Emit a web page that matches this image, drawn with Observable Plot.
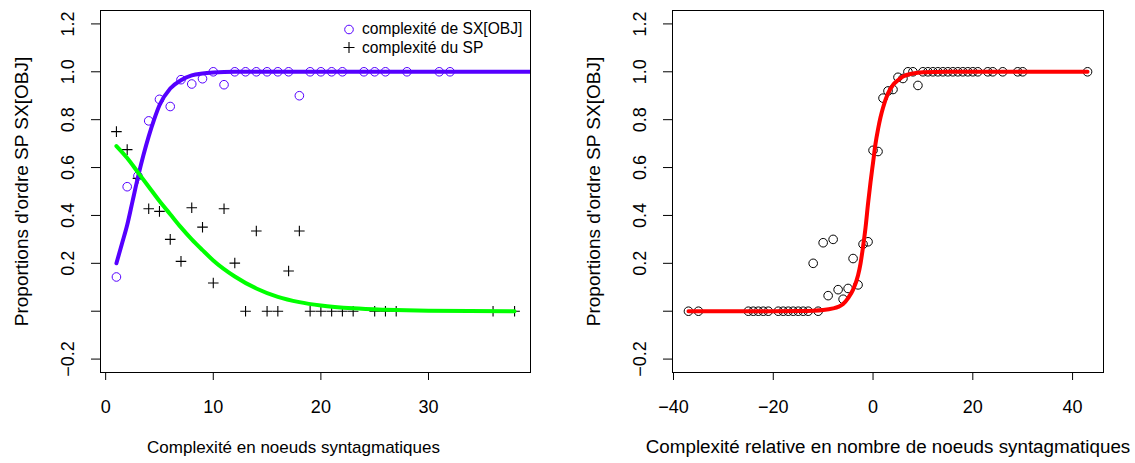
<!DOCTYPE html>
<html><head><meta charset="utf-8">
<script src="https://cdn.jsdelivr.net/npm/d3@7"></script>
<script src="https://cdn.jsdelivr.net/npm/@observablehq/plot@0.6"></script>
<style>
body{margin:0;background:#fff;}
#wrap{position:relative;width:1135px;height:463px;font-family:"Liberation Sans",Arial,Helvetica,sans-serif;color:#000;}
#left,#right{position:absolute;top:0;}
#left{left:0;} #right{left:567px;}
.leg{position:absolute;left:341px;height:19px;display:flex;align-items:center;font-size:15.6px;white-space:nowrap;}
.leg span{margin-left:5px;}
</style></head><body>
<div id="wrap"><div id="left"></div><div id="right"></div>
<div class="leg" style="top:19.5px"><svg width="16" height="19"><circle cx="8" cy="9.5" r="4.3" fill="none" stroke="#5500ff" stroke-width="1"/></svg><span>complexité de SX[OBJ]</span></div>
<div class="leg" style="top:38px"><svg width="16" height="19"><path d="M2.5,9.5H13.5M8,4V15" stroke="#000" stroke-width="1.1" fill="none"/></svg><span>complexité du SP</span></div>
</div>
<script>
// ---------- data: left panel ----------
const sxX = [1,2,3,4,5,6,7,8,9,10,11,12,13,14,15,16,17,18,19,20,21,22,24,25,26,28,31,32];
const sxY = [0.143,0.52,0.565,0.795,0.885,0.855,0.967,0.949,0.971,1,0.946,1,1,1,1,1,1,0.9,1,1,1,1,1,1,1,1,1,1];
const spX = [1,2,3,4,5,6,7,8,9,10,11,12,13,14,15,16,17,18,19,20,21,22,23,25,26,27,36,38];
const spY = [0.75,0.675,0.555,0.428,0.417,0.30,0.208,0.432,0.351,0.118,0.428,0.201,0,0.335,0,0,0.168,0.335,0,0,0,0,0,0,0,0,0,0];
// fitted curves
const sxCurveX = [1,1.5,2,2.5,3,3.5,4,4.5,5,6,7,8,9,10,12,15,39.5];
const sxCurveY = [0.20,0.28,0.36,0.46,0.56,0.65,0.73,0.80,0.86,0.93,0.965,0.985,0.993,0.997,1,1,1];
const spCurveX = [1,2,3,4,5,6,7,8,9,10,12,14,16,18,20,23,26,30,38];
const spCurveY = [0.69,0.64,0.58,0.52,0.46,0.405,0.35,0.30,0.255,0.212,0.145,0.095,0.06,0.038,0.024,0.012,0.006,0.002,0];
// ---------- data: right panel ----------
const relX = [-37,-35,-25,-24,-23,-22,-21,-19,-18,-17,-16,-15,-14,-13,-12,-11,-10,-9,-8,-7,-6,-5,-4,-3,-2,-1,0,1,2,3,4,5,6,7,8,9,10,11,12,13,14,15,16,17,18,19,20,21,23,24,26,29,30,43];
const relY = [0,0,0,0,0,0,0,0,0,0,0,0,0,0,0.2,0,0.286,0.065,0.3,0.09,0.05,0.095,0.22,0.11,0.28,0.29,0.672,0.667,0.89,0.92,0.926,0.977,0.972,1,1,0.943,1,1,1,1,1,1,1,1,1,1,1,1,1,1,1,1,1,1];
const relCurveX = [-37,-20,-15,-12,-10,-8,-7,-6,-5,-4,-3,-2.5,-2,-1.5,-1,-0.5,0,0.5,1,1.5,2,3,4,5,6,8,10,15,43];
const relCurveY = [0,0,0.0005,0.002,0.005,0.012,0.018,0.03,0.055,0.09,0.15,0.2,0.27,0.35,0.45,0.54,0.62,0.70,0.76,0.81,0.85,0.91,0.945,0.965,0.98,0.993,0.998,1,1];
// ---------- ticks / labels ----------
const yTicks = [-0.2,0,0.2,0.4,0.6,0.8,1.0,1.2];
const yTickLabels = ["\u22120.2","","0.2","0.4","0.6","0.8","1.0","1.2"];
const leftXTicks = [0,10,20,30];
const leftXTickLabels = ["0","10","20","30"];
const rightXTicks = [-40,-20,0,20,40];
const rightXTickLabels = ["\u221240","\u221220","0","20","40"];
const yTitle = "Proportions d'ordre SP SX[OBJ]";
const leftXTitle = "Complexité en noeuds syntagmatiques";
const rightXTitle = "Complexité relative en nombre de noeuds syntagmatiques";
const ylim = [-0.2, 1.2];

const purple = "#5500ff", green = "#00ff00", red = "#ff0000";
const font = "'Liberation Sans', Arial, Helvetica, sans-serif";
const pad = e => { const d = (e[1]-e[0])*0.04; return [e[0]-d, e[1]+d]; };
const pts = (xs, ys) => xs.map((x,i) => ({x, y: ys[i]}));

function panel({width, marginLeft, marginRight, xDomain, xTicks, xTickLabels, xTitle, xTitleSize, xTitleDx, marks}) {
  return Plot.plot({
    width, height: 463, marginLeft, marginRight, marginTop: 10, marginBottom: 91,
    style: {fontFamily: font, background: "white", color: "black", overflow: "visible"},
    x: {domain: xDomain},
    y: {domain: pad(ylim)},
    marks: [
      Plot.axisX({ticks: xTicks, tickSize: 8, tickPadding: 20, fontSize: 18, label: null,
        tickFormat: d => xTickLabels[xTicks.indexOf(d)]}),
      Plot.axisY({ticks: yTicks, tickSize: 9, label: null, tickFormat: () => ""}),
      Plot.text(yTicks, {y: d => d, text: d => yTickLabels[yTicks.indexOf(d)], frameAnchor: "left", textAnchor: "middle", dx: -32, rotate: -90, fontSize: 18}),
      Plot.text([yTitle], {frameAnchor: "left", textAnchor: "middle", dx: -79, rotate: -90, fontSize: 19}),
      Plot.text([xTitle], {frameAnchor: "bottom", textAnchor: "middle", dy: 80, dx: xTitleDx, fontSize: xTitleSize}),
      ...marks,
      Plot.frame({stroke: "black", strokeWidth: 1})
    ]
  });
}

const left = panel({
  width: 567, marginLeft: 100, marginRight: 37,
  xDomain: pad(d3.extent(sxX.concat(spX))),
  xTicks: leftXTicks, xTickLabels: leftXTickLabels, xTitle: leftXTitle, xTitleSize: 17, xTitleDx: -22,
  marks: [
    Plot.dot(pts(sxX, sxY), {x: "x", y: "y", r: 4.3, stroke: purple, strokeWidth: 1, fill: "none"}),
    Plot.dot(pts(spX, spY), {x: "x", y: "y", symbol: "plus", r: 3.5, stroke: "black", strokeWidth: 1.1}),
    Plot.line(pts(sxCurveX, sxCurveY), {x: "x", y: "y", stroke: purple, strokeWidth: 4, curve: "monotone-x", clip: true}),
    Plot.line(pts(spCurveX, spCurveY), {x: "x", y: "y", stroke: green, strokeWidth: 4, curve: "monotone-x"})
  ]
});
const right = panel({
  width: 568, marginLeft: 105, marginRight: 32,
  xDomain: pad(d3.extent(relX)),
  xTicks: rightXTicks, xTickLabels: rightXTickLabels, xTitle: rightXTitle, xTitleSize: 18.8, xTitleDx: 0,
  marks: [
    Plot.dot(pts(relX, relY), {x: "x", y: "y", r: 4.3, stroke: "black", strokeWidth: 1, fill: "none"}),
    Plot.line(pts(relCurveX, relCurveY), {x: "x", y: "y", stroke: red, strokeWidth: 4, curve: "monotone-x"})
  ]
});
document.getElementById("left").appendChild(left);
document.getElementById("right").appendChild(right);
</script>
</body></html>
